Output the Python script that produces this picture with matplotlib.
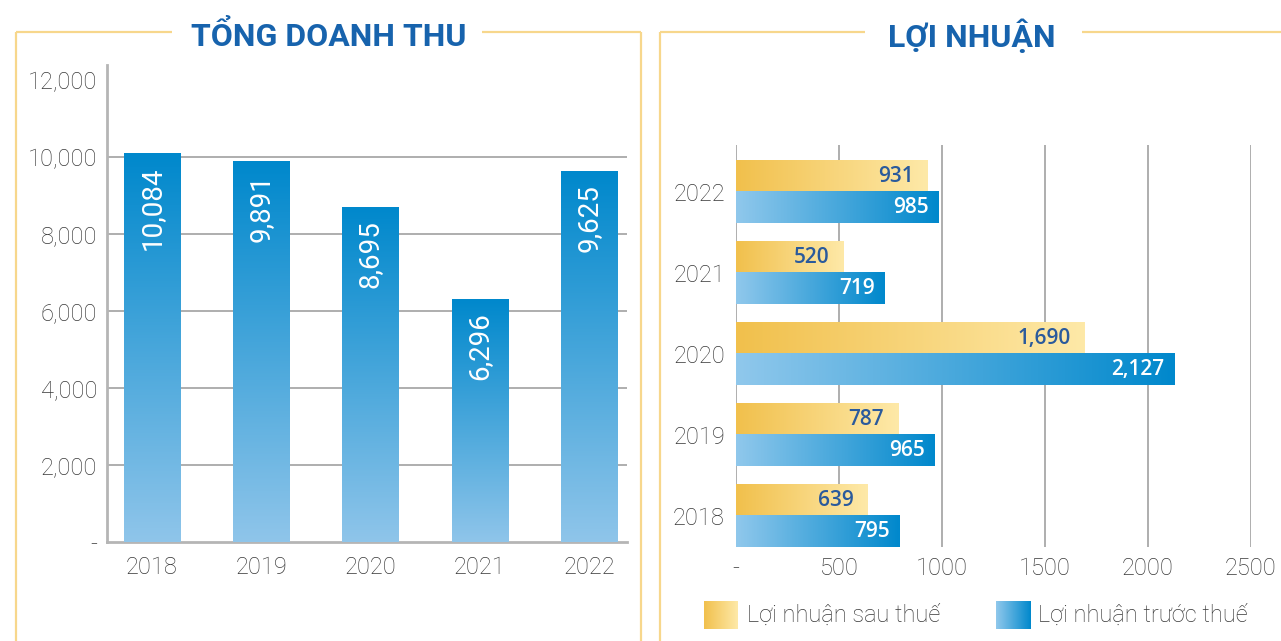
import numpy as np
import matplotlib
matplotlib.use("Agg")
import matplotlib.pyplot as plt
from matplotlib.colors import LinearSegmentedColormap

# ---------------- data ----------------
years = ["2018", "2019", "2020", "2021", "2022"]
revenue = [10084, 9891, 8695, 6296, 9625]
revenue_labels = ["10,084", "9,891", "8,695", "6,296", "9,625"]
profit_after = [639, 787, 1690, 520, 931]
profit_after_labels = ["639", "787", "1,690", "520", "931"]
profit_before = [795, 965, 2127, 719, 985]
profit_before_labels = ["795", "965", "2,127", "719", "985"]
rev_yticks = [0, 2000, 4000, 6000, 8000, 10000, 12000]
rev_yticklabels = ["-", "2,000", "4,000", "6,000", "8,000", "10,000", "12,000"]
prof_xticks = [0, 500, 1000, 1500, 2000, 2500]
prof_xticklabels = ["-", "500", "1000", "1500", "2000", "2500"]
title_left = "TỔNG DOANH THU"
title_right = "LỢI NHUẬN"
legend_labels = ["Lợi nhuận sau thuế", "Lợi nhuận trước thuế"]

# ---------------- style ----------------
W, H = 1281, 641
TXT = "#383838"
GRID = "#a8a8a8"
GOLD_FRAME = "#f7d78c"
TITLE_BLUE = "#1763ad"
blue_v = LinearSegmentedColormap.from_list("bv", ["#8fc5ea", "#0088cc"])
blue_h = LinearSegmentedColormap.from_list("bh", ["#90c8ec", "#0088cc"])
gold_h = LinearSegmentedColormap.from_list("gh", ["#f1c04c", "#fee9a8"])
grad = np.linspace(0, 1, 256)

plt.rcParams["font.family"] = ["Roboto", "DejaVu Sans"]
LIGHT = "light"

fig = plt.figure(figsize=(W / 100, H / 100), dpi=100)

# overlay axes in pixel coordinates for frames & legend
ov = fig.add_axes([0, 0, 1, 1], zorder=0)
ov.set_xlim(0, W)
ov.set_ylim(H, 0)
ov.axis("off")
fk = dict(color=GOLD_FRAME, lw=1.6, solid_capstyle="butt")
ov.plot([16, 172], [32, 32], **fk)
ov.plot([482, 641], [32, 32], **fk)
ov.plot([16, 16], [32, H + 5], **fk)
ov.plot([641, 641], [32, H + 5], **fk)
ov.plot([660, 865], [32, 32], **fk)
ov.plot([1082, W + 5], [32, 32], **fk)
ov.plot([660, 660], [32, H + 5], **fk)

fig.text(329 / W, 1 - 36 / H, title_left, ha="center", va="center",
         fontsize=23, fontweight="bold", color=TITLE_BLUE)
fig.text(972 / W, 1 - 36 / H, title_right, ha="center", va="center",
         fontsize=23, fontweight="bold", color=TITLE_BLUE)

# ---------------- left chart ----------------
axL = fig.add_axes([107 / W, 1 - 542 / H, 520 / W, 477 / H], zorder=2)
x = np.arange(len(years))
bw = 0.513
bars = axL.bar(x, revenue, width=bw, color="none", zorder=3)
for b in bars:
    x0, y0, w, h = b.get_x(), b.get_y(), b.get_width(), b.get_height()
    axL.imshow(grad[:, None], cmap=blue_v, origin="lower", aspect="auto",
               extent=[x0, x0 + w, y0, y0 + h], zorder=3)
for xi, v, lab in zip(x, revenue, revenue_labels):
    axL.annotate(lab, (xi, v), xytext=(0, -9), textcoords="offset points",
                 rotation=90, ha="center", va="top", color="white",
                 fontsize=20, zorder=5)
axL.set_xlim(-0.412, 4.348)
axL.set_ylim(0, 12390)
axL.set_yticks(rev_yticks)
axL.set_yticklabels(rev_yticklabels)
axL.set_xticks(x)
axL.set_xticklabels(years)
axL.tick_params(length=0, labelsize=17, labelcolor=TXT)
axL.tick_params(axis="y", pad=7)
axL.tick_params(axis="x", pad=10)
axL.yaxis.grid(True, color=GRID, lw=1.3, zorder=1)
axL.set_axisbelow(True)
gl = axL.yaxis.get_gridlines()
gl[0].set_visible(False)
gl[-1].set_visible(False)
for s in ["top", "right"]:
    axL.spines[s].set_visible(False)
for s in ["left", "bottom"]:
    axL.spines[s].set_color("#b5b5b5")
    axL.spines[s].set_linewidth(2)
axL.patch.set_alpha(0)

# ---------------- right chart ----------------
axR = fig.add_axes([736 / W, 1 - 547 / H, 515 / W, 402 / H], zorder=2)
bh = 0.385
ya = x + bh / 2
yb = x - bh / 2
barsA = axR.barh(ya, profit_after, height=bh, color="none", zorder=3)
barsB = axR.barh(yb, profit_before, height=bh, color="none", zorder=3)
for bs, cm in ((barsA, gold_h), (barsB, blue_h)):
    for b in bs:
        x0, y0, w, h = b.get_x(), b.get_y(), b.get_width(), b.get_height()
        axR.imshow(grad[None, :], cmap=cm, origin="lower", aspect="auto",
                   extent=[x0, x0 + w, y0, y0 + h], zorder=3)
lab_font = dict(fontsize=15, fontweight="semibold", family=["Open Sans", "DejaVu Sans"])
for yy, v, lab in zip(ya, profit_after, profit_after_labels):
    axR.annotate(lab, (v, yy), xytext=(-10, 0), textcoords="offset points",
                 ha="right", va="center", color="#2a5a9c", zorder=5, **lab_font)
for yy, v, lab in zip(yb, profit_before, profit_before_labels):
    axR.annotate(lab, (v, yy), xytext=(-7, 0), textcoords="offset points",
                 ha="right", va="center", color="white", zorder=5, **lab_font)
axR.set_xlim(0, 2500)
axR.set_ylim(-0.383, 4.58)
axR.set_xticks(prof_xticks)
axR.set_xticklabels(prof_xticklabels)
axR.set_yticks(x)
axR.set_yticklabels(years)
axR.tick_params(length=0, labelsize=17, labelcolor=TXT)
axR.tick_params(axis="y", pad=8)
axR.tick_params(axis="x", pad=7)
axR.xaxis.grid(True, color=GRID, lw=1.3, zorder=1)
axR.set_axisbelow(True)
for s in axR.spines.values():
    s.set_visible(False)
axR.patch.set_alpha(0)

for ax in (axL, axR):
    for t in ax.get_xticklabels() + ax.get_yticklabels():
        t.set_fontweight(LIGHT)

# ---------------- legend ----------------
ov.imshow(grad[None, :], cmap=gold_h, aspect="auto",
          extent=[704, 738, 629, 601], zorder=2)
ov.imshow(grad[None, :], cmap=blue_h, aspect="auto",
          extent=[996, 1031, 629, 601], zorder=2)
ov.set_xlim(0, W)
ov.set_ylim(H, 0)
ov.text(747, 615, legend_labels[0], ha="left", va="center", fontsize=17,
        color=TXT, fontweight=LIGHT)
ov.text(1038, 615, legend_labels[1], ha="left", va="center", fontsize=17,
        color=TXT, fontweight=LIGHT)

fig.savefig("out.png", dpi=100)
